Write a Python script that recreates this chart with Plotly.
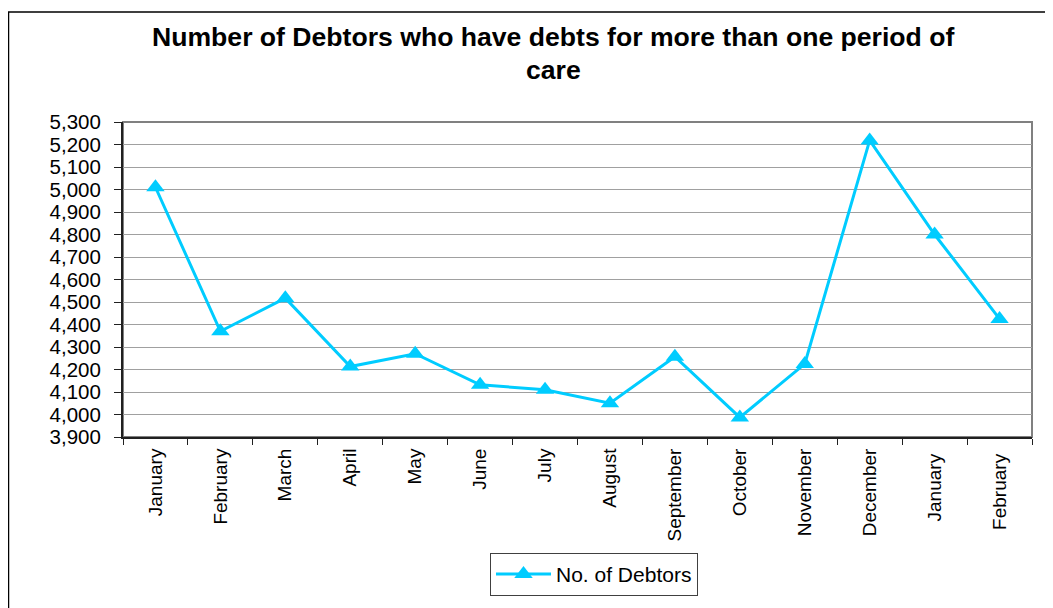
import plotly.graph_objects as go

months = ["January", "February", "March", "April", "May", "June", "July",
          "August", "September", "October", "November", "December", "January ", "February "]
debtors = [5010, 4370, 4517, 4213, 4270, 4132, 4110, 4050, 4257, 3987, 4225, 5218, 4800, 4425]
y_ticks = list(range(3900, 5301, 100))

OFF = 8  # page body margin
W, H = 1053 - OFF, 608 - OFF
L, R, T, B = 123 - OFF, 21, 122 - OFF, 168
pw, ph = W - L - R, H - T - B

def px_x(x):
    return (x - OFF - L) / pw

def px_y(y):
    return (H - B - (y - OFF)) / ph

fig = go.Figure()
fig.add_trace(go.Scatter(
    x=months, y=debtors, mode="lines+markers", name="No. of Debtors",
    line=dict(color="#00CCFF", width=3),
    marker=dict(symbol="triangle-up", size=16, color="#00CCFF"),
))

font = "Liberation Sans, Arial, sans-serif"
fig.update_layout(
    width=W, height=H,
    margin=dict(l=L, r=R, t=T, b=B),
    paper_bgcolor="white", plot_bgcolor="white",
    font=dict(family=font, color="black"),
    showlegend=True,
    legend=dict(
        x=px_x(594), y=px_y(557), xanchor="center", yanchor="top",
        bordercolor="#404040", borderwidth=1, bgcolor="white",
        font=dict(size=21, family=font), itemwidth=55,
    ),
    xaxis=dict(
        type="category", tickson="boundaries", ticks="outside", ticklen=6,
        tickcolor="#202020", showline=True, linecolor="#202020", linewidth=2,
        showgrid=False, tickangle=-90, tickfont=dict(size=19, family=font),
        range=[-0.5, len(months) - 0.5], ticklabelstandoff=2,
    ),
    yaxis=dict(
        range=[3900, 5300], tickvals=y_ticks, tickformat=",", ticks="outside",
        ticklen=7, tickcolor="#202020", showline=True, linecolor="#202020",
        linewidth=2, showgrid=True, gridcolor="#a0a0a0", gridwidth=1,
        tickfont=dict(size=20.5, family=font), zeroline=False,
        ticklabelstandoff=9,
    ),
    shapes=[
        dict(type="rect", xref="paper", yref="paper", x0=0, x1=1, y0=0, y1=1,
             line=dict(color="#808080", width=2), layer="below"),
        dict(type="rect", xref="paper", yref="paper",
             x0=px_x(8.5), x1=px_x(1065), y0=px_y(625), y1=px_y(11),
             line=dict(color="black", width=1.5)),
    ],
    annotations=[
        dict(text="<b>Number of Debtors who have debts for more than one period of</b>",
             xref="paper", yref="paper", x=px_x(553), y=px_y(36),
             xanchor="center", yanchor="middle", showarrow=False,
             font=dict(size=26.6, family=font)),
        dict(text="<b>care</b>",
             xref="paper", yref="paper", x=px_x(553), y=px_y(70),
             xanchor="center", yanchor="middle", showarrow=False,
             font=dict(size=26.6, family=font)),
    ],
)

fig.write_html("out.html")
